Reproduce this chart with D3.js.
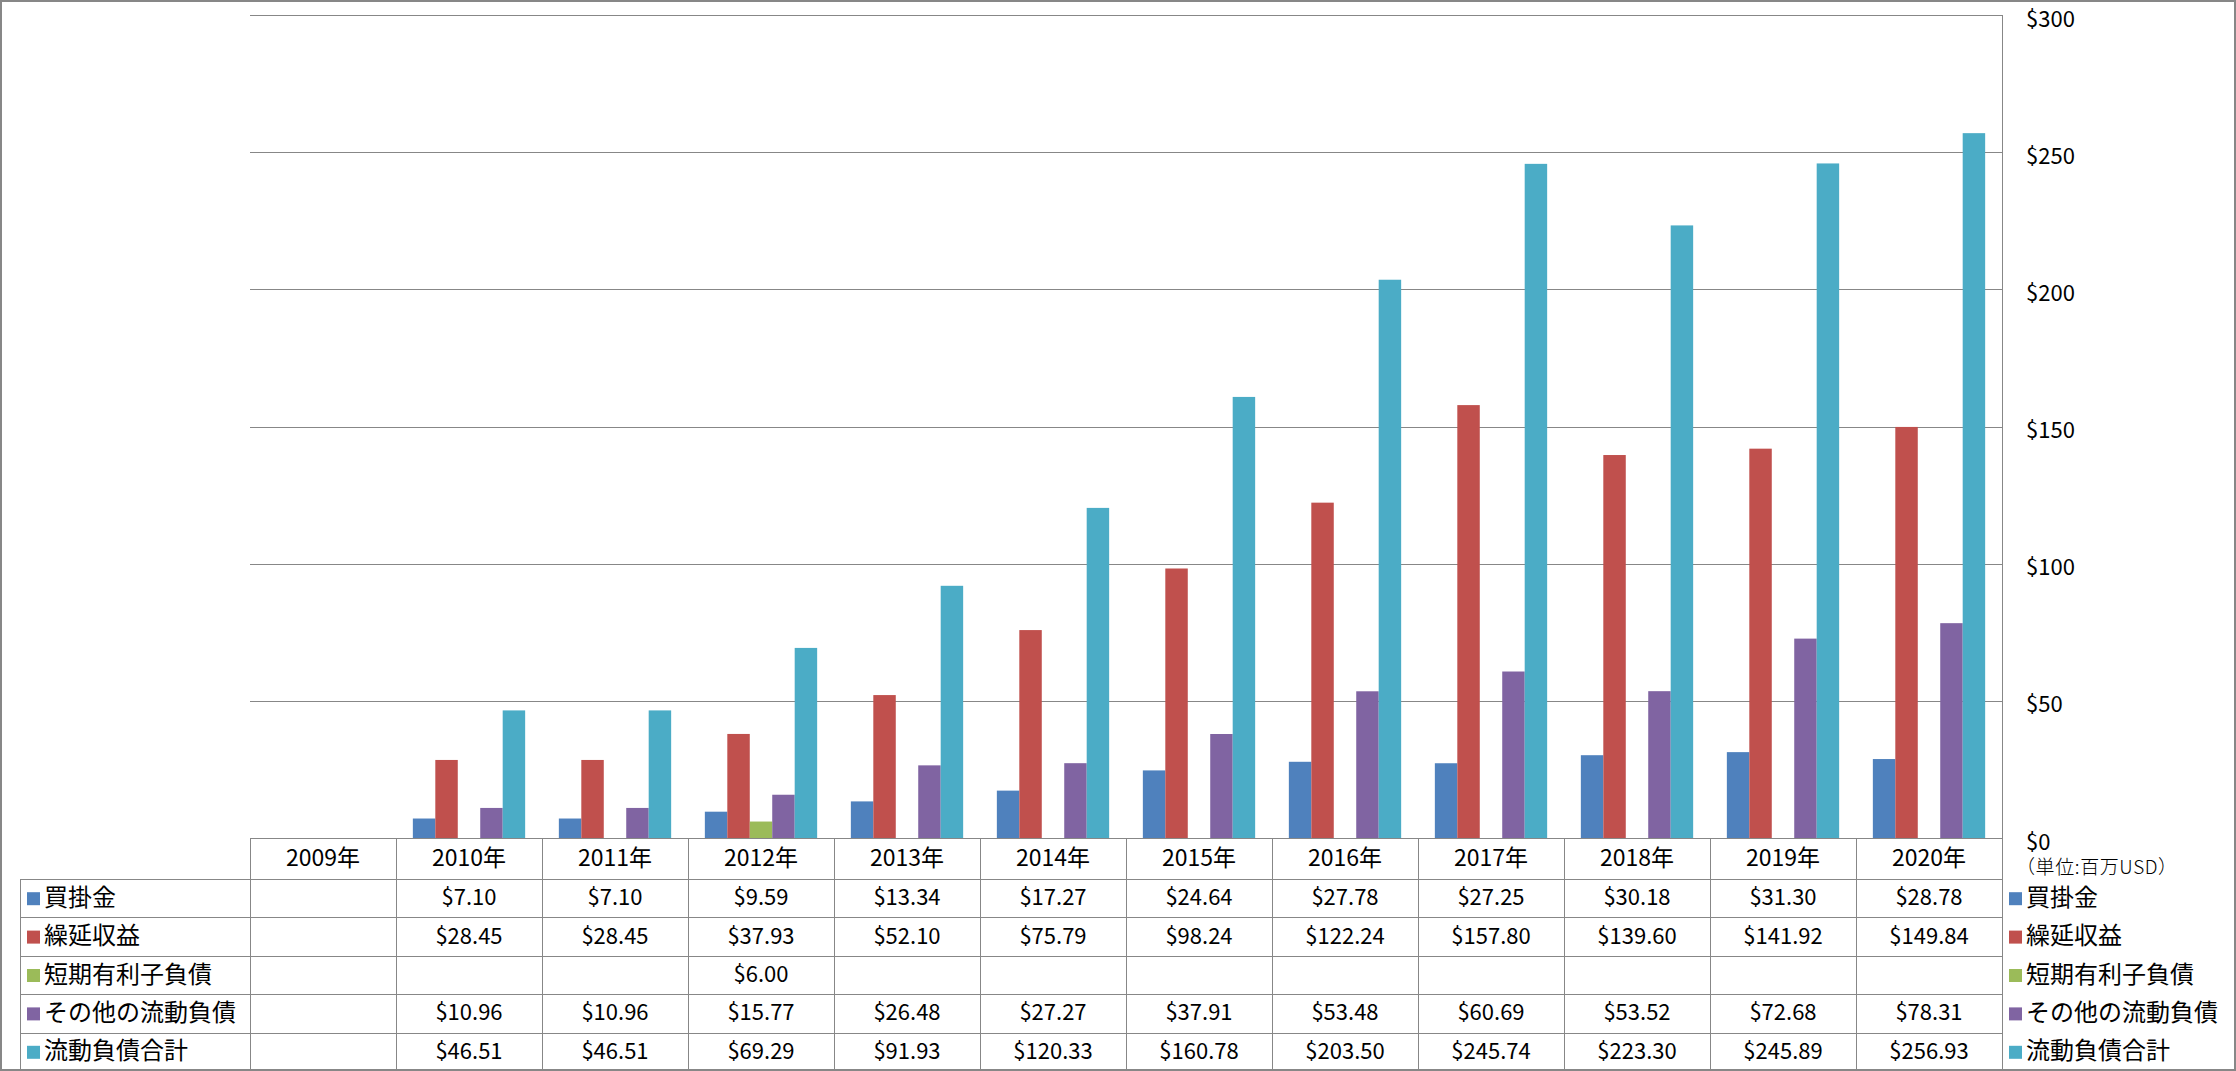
<!DOCTYPE html>
<html><head><meta charset="utf-8">
<script src="https://cdn.jsdelivr.net/npm/d3@7"></script>
<style>
html,body{margin:0;padding:0;background:#fff;}
svg{display:block;}
text{font-family:"Noto Sans CJK JP","Noto Sans",sans-serif;fill:#000;}
</style></head>
<body><svg id="chart" width="2236" height="1071"></svg>
<script>
const categories = ["2009年","2010年","2011年","2012年","2013年","2014年","2015年","2016年","2017年","2018年","2019年","2020年"];
const seriesNames = ["買掛金","繰延収益","短期有利子負債","その他の流動負債","流動負債合計"];
const accountsPayable = [null,7.10,7.10,9.59,13.34,17.27,24.64,27.78,27.25,30.18,31.30,28.78];
const deferredRevenue = [null,28.45,28.45,37.93,52.10,75.79,98.24,122.24,157.80,139.60,141.92,149.84];
const shortTermDebt = [null,null,null,6.00,null,null,null,null,null,null,null,null];
const otherCurrent = [null,10.96,10.96,15.77,26.48,27.27,37.91,53.48,60.69,53.52,72.68,78.31];
const totalCurrent = [null,46.51,46.51,69.29,91.93,120.33,160.78,203.50,245.74,223.30,245.89,256.93];
const seriesColors = ["#4F81BD","#C0504D","#9BBB59","#8064A2","#4BACC6"];
const yTicks = [0,50,100,150,200,250,300];
const unitLabel = "（単位:百万USD）";

const seriesValues = [accountsPayable, deferredRevenue, shortTermDebt, otherCurrent, totalCurrent];
const series = seriesNames.map((n,i)=>({name:n, color:seriesColors[i], values:seriesValues[i]}));

const W = 2236, H = 1071;
const plotL = 250, plotR = 2002, plotT = 15, plotB = 838;
const tableL = 20, rowH = 38.4, headerH = 41;
const gridColor = "#878787";

const svg = d3.select("#chart");
svg.append("rect").attr("x",1).attr("y",1).attr("width",W-2).attr("height",H-2)
  .attr("fill","#fff").attr("stroke","#878787").attr("stroke-width",2);

const x0 = d3.scaleBand().domain(categories).range([plotL, plotR]).paddingInner(0).paddingOuter(0);
const x1 = d3.scaleBand().domain(seriesNames).range([0, x0.bandwidth()]).paddingInner(0).paddingOuter(0.75);
const y = d3.scaleLinear().domain([0,300]).range([plotB, plotT]);

// gridlines
svg.append("g").selectAll("line").data(yTicks.filter(t=>t>0)).join("line")
  .attr("x1",plotL).attr("x2",plotR)
  .attr("y1",d=>Math.round(y(d))+0.5).attr("y2",d=>Math.round(y(d))+0.5)
  .attr("stroke",gridColor).attr("stroke-width",1);

// bars
const gBars = svg.append("g");
series.forEach(s=>{
  gBars.append("g").selectAll("rect")
    .data(categories.map((c,i)=>({c, v:s.values[i]})).filter(d=>d.v!=null))
    .join("rect")
    .attr("x",d=>x0(d.c)+x1(s.name))
    .attr("width",x1.bandwidth())
    .attr("y",d=>y(d.v))
    .attr("height",d=>y(0)-y(d.v))
    .attr("fill",s.color);
});

// right axis
const axis = d3.axisRight(y).tickValues(yTicks).tickFormat(d=>"$"+d).tickSize(0).tickPadding(24);
const gAxis = svg.append("g").attr("transform",`translate(${plotR},0)`).call(axis);
gAxis.select(".domain").remove();
gAxis.selectAll("text").attr("font-size",22).attr("dy","0.5em")
  .style("font-family",'"Noto Sans CJK JP",sans-serif').attr("fill","#000");

svg.append("text").attr("x",2016).attr("y",869).attr("dominant-baseline","middle")
  .attr("font-size",19).attr("letter-spacing","0.6").attr("font-weight",300).text(unitLabel);

// table
const gT = svg.append("g");
const tableBottom = plotB + headerH + rowH*series.length;
const rowTop = i => plotB + headerH + rowH*i;
gT.append("line").attr("x1",plotL).attr("x2",plotR).attr("y1",plotB+0.5).attr("y2",plotB+0.5).attr("stroke",gridColor);
d3.range(series.length+1).forEach(i=>{
  const yy = Math.round(rowTop(i))+0.5;
  gT.append("line").attr("x1",tableL).attr("x2",plotR).attr("y1",yy).attr("y2",yy).attr("stroke",gridColor);
});
gT.selectAll("line.v").data(categories).join("line").attr("class","v")
  .attr("x1",d=>Math.round(x0(d))+0.5).attr("x2",d=>Math.round(x0(d))+0.5)
  .attr("y1",plotB).attr("y2",tableBottom).attr("stroke",gridColor);
gT.append("line").attr("x1",tableL+0.5).attr("x2",tableL+0.5).attr("y1",rowTop(0)).attr("y2",tableBottom).attr("stroke",gridColor);
gT.append("line").attr("x1",plotR+0.5).attr("x2",plotR+0.5).attr("y1",plotT).attr("y2",tableBottom).attr("stroke",gridColor);

// header labels
gT.selectAll("text.h").data(categories).join("text").attr("class","h")
  .attr("x",d=>x0(d)+x0.bandwidth()/2).attr("y",plotB+headerH/2+1)
  .attr("text-anchor","middle").attr("dominant-baseline","middle").attr("font-size",23).text(d=>d);

const fmt = d3.format(".2f");
series.forEach((s,si)=>{
  const cy = rowTop(si)+rowH/2+1;
  gT.append("rect").attr("x",27).attr("y",cy-7).attr("width",13).attr("height",13).attr("fill",s.color);
  gT.append("text").attr("x",44).attr("y",cy).attr("dominant-baseline","middle").attr("font-size",24).text(s.name);
  gT.append("rect").attr("x",2009).attr("y",cy-7).attr("width",13).attr("height",13).attr("fill",s.color);
  gT.append("text").attr("x",2026).attr("y",cy).attr("dominant-baseline","middle").attr("font-size",24).text(s.name);
  gT.append("g").selectAll("text")
    .data(categories.map((c,i)=>({c,v:s.values[i]})).filter(d=>d.v!=null))
    .join("text")
    .attr("x",d=>x0(d.c)+x0.bandwidth()/2).attr("y",cy)
    .attr("text-anchor","middle").attr("dominant-baseline","middle").attr("font-size",22)
    .text(d=>"$"+fmt(d.v));
});
</script></body></html>
